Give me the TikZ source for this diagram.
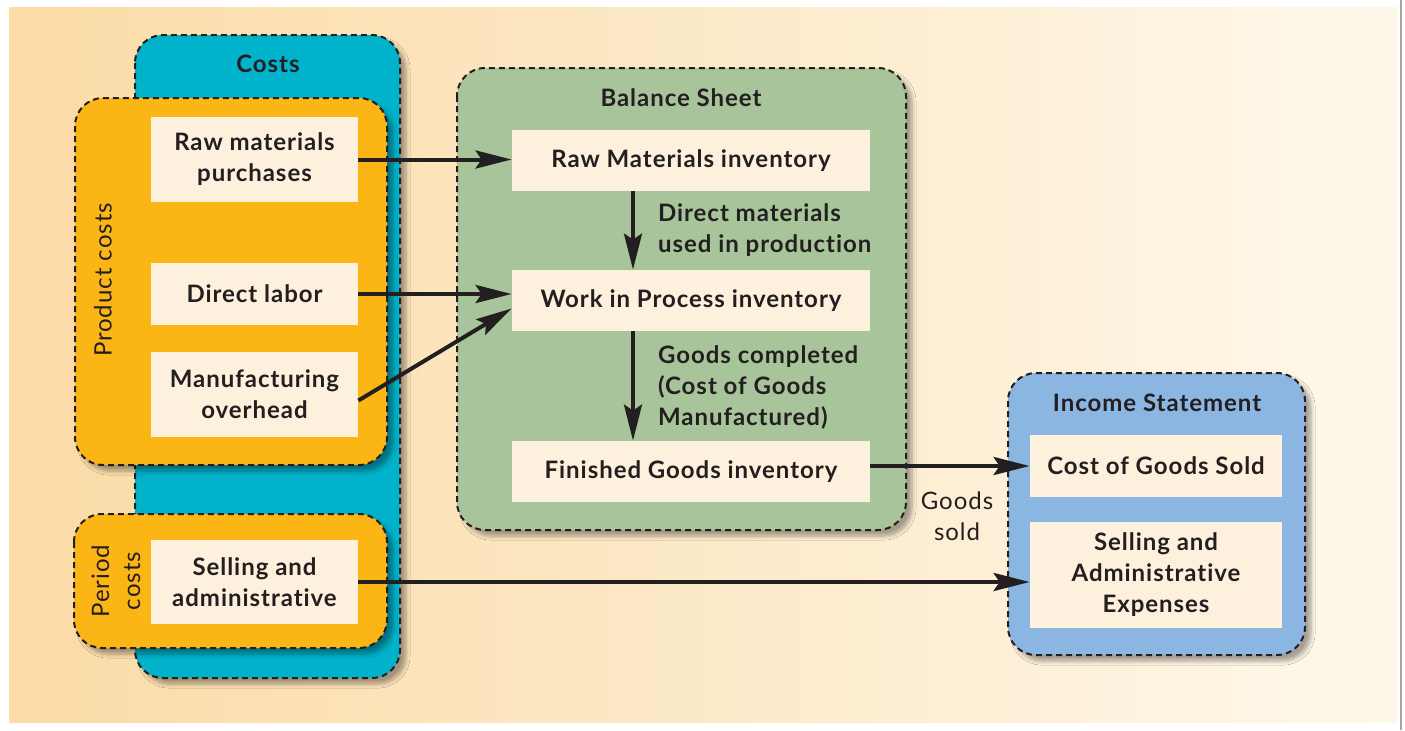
\documentclass[tikz,border=0pt]{standalone}
\usepackage{fontspec}
\setmainfont{Lato}[LetterSpace=4, Ligatures={NoCommon}]
\usetikzlibrary{arrows.meta, positioning, shadows.blur}

\definecolor{bgleft}{HTML}{FBDBA6}
\definecolor{bgright}{HTML}{FEF8EB}
\definecolor{costteal}{HTML}{00B2CA}
\definecolor{prodorange}{HTML}{FBB515}
\definecolor{sheetgreen}{HTML}{A8C49A}
\definecolor{incomeblue}{HTML}{8BB6E1}
\definecolor{boxcream}{HTML}{FDF0DC}
\definecolor{inkdark}{HTML}{231F20}

\tikzset{
  groupbox/.style={draw=inkdark, line width=1pt, dash pattern=on 3pt off 2pt,
    rounded corners=14pt,
    blur shadow={shadow xshift=3pt, shadow yshift=-3pt, shadow opacity=35, shadow blur steps=6}},
  itembox/.style={fill=boxcream, text=inkdark, inner sep=0pt, align=center,
    font=\fontsize{12}{15.5}\selectfont\bfseries},
  title/.style={text=inkdark, font=\fontsize{12}{15.5}\selectfont\bfseries},
  note/.style={text=inkdark, align=left, font=\fontsize{12}{15.5}\selectfont\bfseries},
  side/.style={text=inkdark, align=center, font=\fontsize{12}{15.5}\selectfont},
  flow/.style={draw=inkdark, line width=2pt, -{Stealth[length=18pt, width=9pt, inset=3pt]}}
}

\begin{document}
\begin{tikzpicture}[x=0.5pt, y=-0.5pt]
    \useasboundingbox (0,0) rectangle (1405,730);
    % background
    \shade[left color=bgleft, right color=bgright] (9,7) rectangle (1398,722);
    \draw[gray!70, line width=0.6pt] (1401,0) -- (1401,730);

    % cost groups
    \draw[groupbox, fill=costteal] (135,35) rectangle (400,678);
    \node[title] (costs) at (268,64) {Costs};
    \draw[groupbox, fill=prodorange] (75,98) rectangle (387,465);
    \draw[groupbox, fill=prodorange] (74,514) rectangle (387,648);
    \node[side, rotate=90] (prodlbl) at (103,280) {Product costs};
    \node[side, rotate=90] (periodlbl) at (116,581) {Period\\costs};

    \node[itembox, minimum width=103.5pt, minimum height=42.5pt] (rmp) at (254.5,159.5) {Raw materials\\purchases};
    \node[itembox, minimum width=103.5pt, minimum height=31pt] (dl) at (254.5,294) {Direct labor};
    \node[itembox, minimum width=103.5pt, minimum height=42.5pt] (mo) at (254.5,394.5) {Manufacturing\\overhead};
    \node[itembox, minimum width=103.5pt, minimum height=42pt] (sa) at (254.5,582) {Selling and\\administrative};

    % balance sheet
    \draw[groupbox, fill=sheetgreen] (457,68) rectangle (906,530);
    \node[title] (bs) at (681,98) {Balance Sheet};
    \node[itembox, minimum width=179pt, minimum height=30.5pt] (rmi) at (691,160.5) {Raw Materials inventory};
    \node[itembox, minimum width=179pt, minimum height=30.5pt] (wip) at (691,300.5) {Work in Process inventory};
    \node[itembox, minimum width=179pt, minimum height=30.5pt] (fgi) at (691,471.5) {Finished Goods inventory};
    \node[note, anchor=west] (dmlbl) at (651,230) {Direct materials\\used in production};
    \node[note, anchor=west] (gclbl) at (651,387) {Goods completed\\(Cost of Goods\\Manufactured)};

    % income statement
    \draw[groupbox, fill=incomeblue] (1008,373) rectangle (1305,655);
    \node[title] (is) at (1157,403) {Income Statement};
    \node[itembox, minimum width=126pt, minimum height=31pt] (cogs) at (1156,466) {Cost of Goods Sold};
    \node[itembox, minimum width=126pt, minimum height=53pt] (sae) at (1156,575) {Selling and\\Administrative\\Expenses};
    \node[side] (soldlbl) at (957,516) {Goods\\sold};

    % flows
    \draw[flow] (rmp.east) -- (rmp.east -| rmi.west);
    \draw[flow] (dl.east) -- (dl.east -| wip.west);
    \draw[flow] ([yshift=-3pt]mo.east) -- ([yshift=-4pt]wip.west);
    \draw[flow] ([xshift=-29pt]rmi.south) -- ([xshift=-29pt]wip.north);
    \draw[flow] ([xshift=-29pt]wip.south) -- ([xshift=-29pt]fgi.north);
    \draw[flow] (cogs.west -| fgi.east) -- (cogs.west);
    \draw[flow] (sa.east) -- (sa.east -| sae.west);
\end{tikzpicture}
\end{document}
